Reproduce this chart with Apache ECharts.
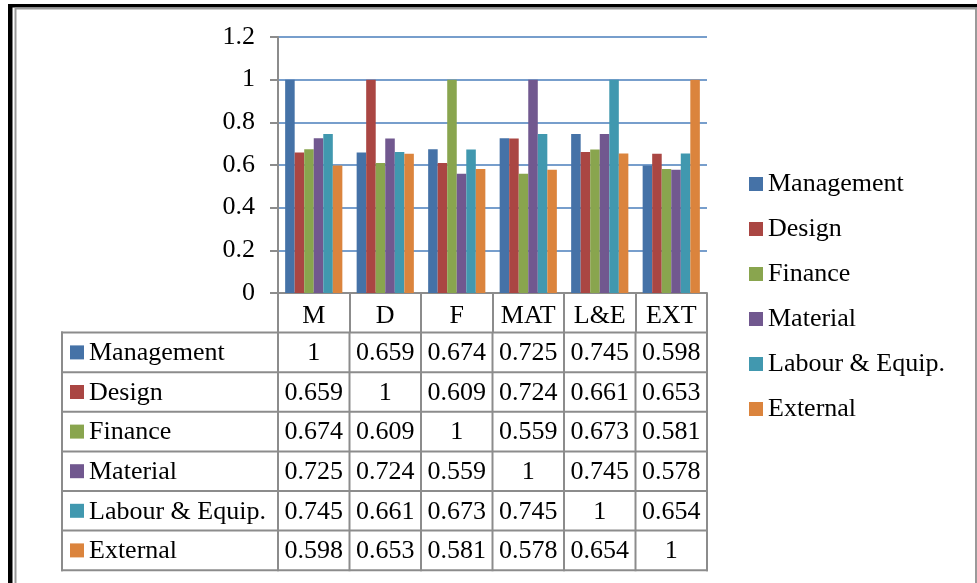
<!DOCTYPE html>
<html>
<head>
<meta charset="utf-8">
<script src="https://cdn.jsdelivr.net/npm/echarts@6/dist/echarts.min.js"></script>
<style>
  html, body { margin: 0; padding: 0; background: #fff; }
  #chart { width: 977px; height: 583px; }
</style>
</head>
<body>
<div id="chart"></div>
<script>
// Column headers (short factor codes) along the category axis
var categories = ['M', 'D', 'F', 'MAT', 'L&E', 'EXT'];

// One series per factor group
var seriesNames = ['Management', 'Design', 'Finance', 'Material', 'Labour & Equip.', 'External'];

var management = [1, 0.659, 0.674, 0.725, 0.745, 0.598];
var design     = [0.659, 1, 0.609, 0.724, 0.661, 0.653];
var finance    = [0.674, 0.609, 1, 0.559, 0.673, 0.581];
var material   = [0.725, 0.724, 0.559, 1, 0.745, 0.578];
var labour     = [0.745, 0.661, 0.673, 0.745, 1, 0.654];
var external   = [0.598, 0.653, 0.581, 0.578, 0.654, 1];

var yTicks = { min: 0, max: 1.2, interval: 0.2 };

var seriesValues = [management, design, finance, material, labour, external];
var colors = ['#4572A7', '#AA4643', '#89A54E', '#71588F', '#4198AF', '#DB843D'];

var FONT = '"Liberation Serif", "Times New Roman", serif';
var FS = 26;
var LINE = '#8c8c8c';

var chart = echarts.init(document.getElementById('chart'), null, { renderer: 'canvas' });

var option = {
  animation: false,
  backgroundColor: '#ffffff',
  textStyle: { fontFamily: FONT, color: '#000' },
  color: colors,
  grid: { left: 278, right: 270, top: 37, bottom: 290, containLabel: false },
  legend: {
    orient: 'vertical',
    left: 749,
    top: 171,
    padding: 0,
    icon: 'rect',
    itemWidth: 14,
    itemHeight: 14,
    itemGap: 19,
    textStyle: { fontFamily: FONT, fontSize: FS, color: '#000', padding: [0, 0, 0, 0] },
    data: seriesNames
  },
  xAxis: {
    type: 'category',
    data: categories,
    axisLine: { lineStyle: { color: LINE, width: 2 } },
    axisTick: { show: true, length: 39.5, lineStyle: { color: LINE, width: 2 } },
    axisLabel: {
      fontFamily: FONT, fontSize: FS, color: '#000',
      margin: 10
    },
    splitLine: { show: false }
  },
  yAxis: {
    type: 'value',
    min: yTicks.min,
    max: yTicks.max,
    interval: yTicks.interval,
    axisLine: { show: true, lineStyle: { color: LINE, width: 2 } },
    axisTick: { show: true, length: 8, lineStyle: { color: LINE, width: 2 } },
    axisLabel: {
      fontFamily: FONT, fontSize: FS, color: '#000', margin: 23,
      formatter: function (v) { return String(Math.round(v * 10) / 10); }
    },
    splitLine: { show: true, lineStyle: { color: '#4a7ebb', width: 1.5 } }
  },
  series: seriesNames.map(function (name, i) {
    return {
      name: name,
      type: 'bar',
      data: seriesValues[i],
      barGap: '0%',
      barCategoryGap: '20%',
      itemStyle: { color: colors[i] }
    };
  })
};

chart.setOption(option);

// Data table under the plot, aligned to the category axis
function buildTable() {
  var centers = categories.map(function (c, i) {
    return chart.convertToPixel({ xAxisIndex: 0 }, i);
  });
  var half = (centers[1] - centers[0]) / 2;
  var edges = [centers[0] - half];
  centers.forEach(function (c) { edges.push(c + half); });
  var axisY = chart.convertToPixel({ yAxisIndex: 0 }, 0);
  var rowH = 39.6;
  var tableLeft = 62;
  var tableRight = edges[edges.length - 1];
  var nRows = seriesNames.length + 1; // header row + one row per series
  var bottomY = axisY + rowH * nRows;
  var g = [];

  // horizontal rules below the header row
  for (var r = 1; r <= nRows; r++) {
    var y = axisY + rowH * r;
    g.push({ type: 'line', shape: { x1: tableLeft - 1, y1: y, x2: tableRight + 1, y2: y },
             style: { stroke: LINE, lineWidth: 2 }, z: 10 });
  }
  // vertical rules
  g.push({ type: 'line', shape: { x1: tableLeft, y1: axisY + rowH - 1, x2: tableLeft, y2: bottomY + 1 },
           style: { stroke: LINE, lineWidth: 2 }, z: 10 });
  edges.forEach(function (x) {
    g.push({ type: 'line', shape: { x1: x, y1: axisY + rowH, x2: x, y2: bottomY + 1 },
             style: { stroke: LINE, lineWidth: 2 }, z: 10 });
  });

  // row headers with colour keys, and cell values
  seriesNames.forEach(function (name, r) {
    var cy = axisY + rowH * (r + 1) + rowH / 2;
    g.push({ type: 'rect', shape: { x: 70, y: cy - 7, width: 14, height: 14 },
             style: { fill: colors[r] }, z: 11 });
    g.push({ type: 'text', x: 89, y: cy + 1,
             style: { text: name, font: FS + 'px ' + FONT, fill: '#000',
                      textAlign: 'left', textVerticalAlign: 'middle' }, z: 11 });
    seriesValues[r].forEach(function (v, c) {
      g.push({ type: 'text', x: centers[c], y: cy + 1,
               style: { text: String(v), font: FS + 'px ' + FONT, fill: '#000',
                        textAlign: 'center', textVerticalAlign: 'middle' }, z: 11 });
    });
  });

  // page frame
  g.push({ type: 'rect', shape: { x: 8, y: 4, width: 969, height: 3.5 }, style: { fill: '#000' }, z: 20 });
  g.push({ type: 'rect', shape: { x: 8, y: 4, width: 4.5, height: 579 }, style: { fill: '#000' }, z: 20 });
  g.push({ type: 'line', shape: { x1: 15.5, y1: 8, x2: 15.5, y2: 583 }, style: { stroke: '#9a9a9a', lineWidth: 2 }, z: 20 });
  g.push({ type: 'line', shape: { x1: 15, y1: 8.5, x2: 977, y2: 8.5 }, style: { stroke: '#9a9a9a', lineWidth: 2 }, z: 20 });
  g.push({ type: 'line', shape: { x1: 976, y1: 8, x2: 976, y2: 583 }, style: { stroke: '#9a9a9a', lineWidth: 2 }, z: 20 });

  chart.setOption({ graphic: g });
}
buildTable();
</script>
</body>
</html>
